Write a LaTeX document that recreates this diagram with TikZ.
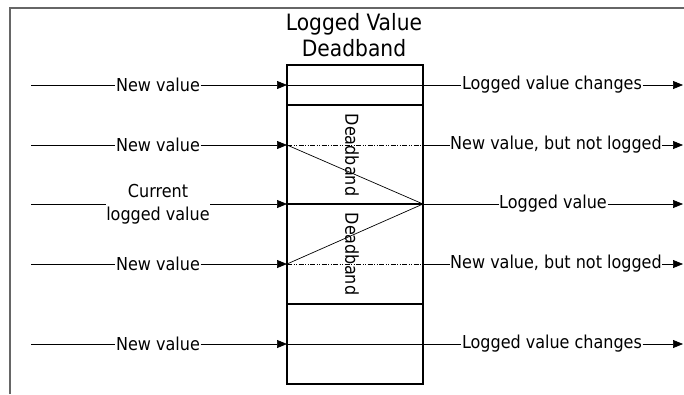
\documentclass[tikz,border=0pt]{standalone}
\usepackage{fontspec}
\setmainfont{DejaVu Sans Condensed}
\usetikzlibrary{arrows.meta}

\begin{document}
\begin{tikzpicture}[x=1pt,y=-1pt]
\useasboundingbox (0,0) rectangle (684,394);

\coordinate (fb) at (10,394);
\coordinate (fc) at (10,8);
\coordinate (fr) at (684,8);
\draw[black!60, line width=1.2pt] (fb) -- (fc) -- (fr);

\coordinate (tl) at (287,65);
\coordinate (br) at (423,384);
\coordinate (d1l) at (287,105);
\coordinate (d1r) at (423,105);
\coordinate (d2l) at (287,304);
\coordinate (d2r) at (423,304);

\coordinate (s1) at (31,85);
\coordinate (s2) at (31,145);
\coordinate (s3) at (31,204);
\coordinate (s4) at (31,264);
\coordinate (s5) at (31,344);

\coordinate (b1) at (287,85);
\coordinate (b2) at (287,145);
\coordinate (b3) at (287,204);
\coordinate (b4) at (287,264);
\coordinate (b5) at (287,344);

\coordinate (c1) at (423,85);
\coordinate (c2) at (423,145);
\coordinate (c3) at (423,204);
\coordinate (c4) at (423,264);
\coordinate (c5) at (423,344);

\coordinate (e1) at (683,85);
\coordinate (e2) at (683,145);
\coordinate (e3) at (683,204);
\coordinate (e4) at (683,264);
\coordinate (e5) at (683,344);

\begin{scope}[every node/.style={inner sep=0.5pt,font=\fontsize{17.8}{23}\selectfont}]
    \node[align=center,font=\fontsize{22.5}{26}\selectfont] (title) at (354,35) {Logged Value\\Deadband};

    \node (nv1) at (158,85) {New value};
    \node (nv2) at (158,145) {New value};
    \node[align=center] (cur) at (158,204) {Current\\logged value};
    \node (nv4) at (158,264) {New value};
    \node (nv5) at (158,344) {New value};

    \node (ch1) at (552,85) {Logged value changes};
    \node (nl2) at (556,145) {New value, but not logged};
    \node (lv3) at (553,204) {Logged value};
    \node (nl4) at (556,264) {New value, but not logged};
    \node (ch5) at (552,344) {Logged value changes};

    \node[rotate=-90] (db1) at (352,155) {Deadband};
    \node[rotate=-90] (db2) at (352,254) {Deadband};
\end{scope}

\begin{scope}[line width=1.5pt]
    \draw (tl) rectangle (br);
    \draw (d1l) -- (d1r);
    \draw (b3) -- (c3);
    \draw (d2l) -- (d2r);
\end{scope}

\begin{scope}[line width=0.7pt]
    \path [-] (s1) edge (nv1);
    \path [-{Triangle[length=10pt,width=8pt]}] (nv1) edge (b1);
    \path [-] (b1) edge (ch1);
    \path [-{Triangle[length=10pt,width=8pt]}] (ch1) edge (e1);

    \path [-] (s2) edge (nv2);
    \path [-{Triangle[length=10pt,width=8pt]}] (nv2) edge (b2);
    \path [-,dash pattern=on 5pt off 1.5pt on 1pt off 1.5pt on 1pt off 1.5pt] (b2) edge (c2);
    \path [-] (c2) edge (nl2);
    \path [-{Triangle[length=10pt,width=8pt]}] (nl2) edge (e2);

    \path [-] (s3) edge (cur);
    \path [-{Triangle[length=10pt,width=8pt]}] (cur) edge (b3);
    \path [-] (c3) edge (lv3);
    \path [-{Triangle[length=10pt,width=8pt]}] (lv3) edge (e3);

    \path [-] (s4) edge (nv4);
    \path [-{Triangle[length=10pt,width=8pt]}] (nv4) edge (b4);
    \path [-,dash pattern=on 5pt off 1.5pt on 1pt off 1.5pt on 1pt off 1.5pt] (b4) edge (c4);
    \path [-] (c4) edge (nl4);
    \path [-{Triangle[length=10pt,width=8pt]}] (nl4) edge (e4);

    \path [-] (s5) edge (nv5);
    \path [-{Triangle[length=10pt,width=8pt]}] (nv5) edge (b5);
    \path [-] (b5) edge (ch5);
    \path [-{Triangle[length=10pt,width=8pt]}] (ch5) edge (e5);

    \path [-] (b2) edge (c3);
    \path [-] (b4) edge (c3);
\end{scope}

\end{tikzpicture}
\end{document}
